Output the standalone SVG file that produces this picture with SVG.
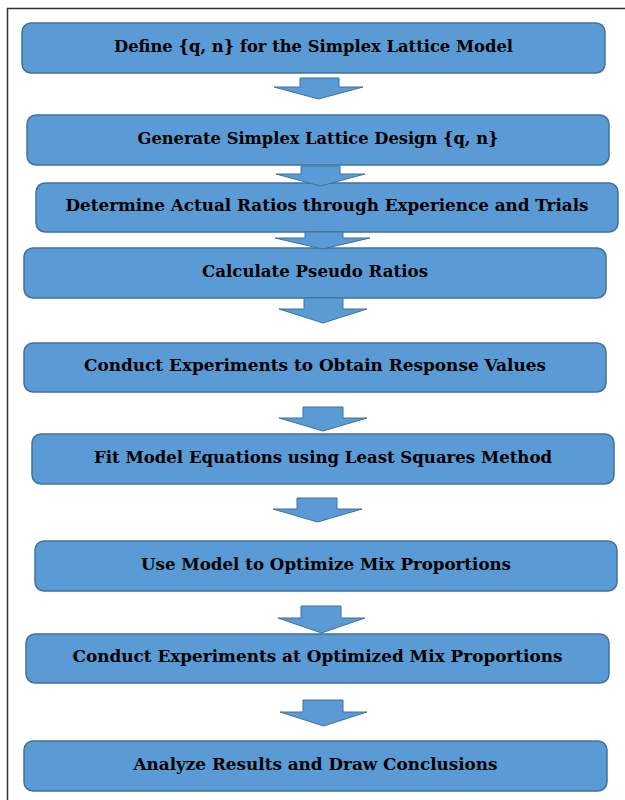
<svg xmlns="http://www.w3.org/2000/svg" width="625" height="800" viewBox="0 0 625 800">
<style>
.box{fill:#5b9bd5;stroke:#41719c;stroke-width:1.5}
.arr{fill:#5b9bd5;stroke:#41719c;stroke-width:1}
.lbl{font-family:"DejaVu Serif","Liberation Serif",serif;font-weight:bold;font-size:16.5px;fill:#000;text-anchor:middle}
</style>
<rect width="625" height="800" fill="#fff"/>
<path d="M7.5 800 V8.5 H625" fill="none" stroke="#333" stroke-width="1.5"/>
<g id="nodes">
<g id="n1"><rect class="box" x="22" y="23" width="583" height="50" rx="9"/><text class="lbl" x="313.5" y="52" textLength="399" lengthAdjust="spacingAndGlyphs">Define {q, n} for the Simplex Lattice Model</text></g>
<g id="n2"><rect class="box" x="27" y="115" width="582" height="50" rx="9"/><text class="lbl" x="318" y="144" textLength="361" lengthAdjust="spacingAndGlyphs">Generate Simplex Lattice Design {q, n}</text></g>
<g id="n3"><rect class="box" x="36" y="183" width="582" height="49" rx="9"/><text class="lbl" x="327" y="211" textLength="523" lengthAdjust="spacingAndGlyphs">Determine Actual Ratios through Experience and Trials</text></g>
<g id="n4"><rect class="box" x="24" y="248" width="582" height="50" rx="9"/><text class="lbl" x="315" y="277" textLength="226" lengthAdjust="spacingAndGlyphs">Calculate Pseudo Ratios</text></g>
<g id="n5"><rect class="box" x="24" y="343" width="582" height="49" rx="9"/><text class="lbl" x="315" y="371" textLength="462" lengthAdjust="spacingAndGlyphs">Conduct Experiments to Obtain Response Values</text></g>
<g id="n6"><rect class="box" x="32" y="434" width="582" height="50" rx="9"/><text class="lbl" x="323" y="463" textLength="458" lengthAdjust="spacingAndGlyphs">Fit Model Equations using Least Squares Method</text></g>
<g id="n7"><rect class="box" x="35" y="541" width="582" height="50" rx="9"/><text class="lbl" x="326" y="570" textLength="370" lengthAdjust="spacingAndGlyphs">Use Model to Optimize Mix Proportions</text></g>
<g id="n8"><rect class="box" x="26" y="634" width="583" height="49" rx="9"/><text class="lbl" x="317.5" y="662" textLength="490" lengthAdjust="spacingAndGlyphs">Conduct Experiments at Optimized Mix Proportions</text></g>
<g id="n9"><rect class="box" x="24" y="741" width="583" height="50" rx="9"/><text class="lbl" x="315.5" y="770" textLength="364" lengthAdjust="spacingAndGlyphs">Analyze Results and Draw Conclusions</text></g>
</g>
<g id="connectors">
<polygon class="arr" points="300,78 339,78 339,87 363,87 318.5,99 274,87 300,87"/>
<polygon class="arr" points="301,166 340,166 340,174 365,174 320.5,186 276,174 301,174"/>
<polygon class="arr" points="305,232 343,232 343,238 370,238 322.5,249 275,238 305,238"/>
<polygon class="arr" points="304,298 343,298 343,309 367,309 323,323 279,309 304,309"/>
<polygon class="arr" points="303,407 343,407 343,418 367,418 323,431 279,418 303,418"/>
<polygon class="arr" points="297,498 337,498 337,509 362,509 317.5,522 273,509 297,509"/>
<polygon class="arr" points="301,606 341,606 341,618 365,618 321.5,633 278,618 301,618"/>
<polygon class="arr" points="303,700 343,700 343,712 367,712 323.5,726 280,712 303,712"/>
</g>
</svg>
